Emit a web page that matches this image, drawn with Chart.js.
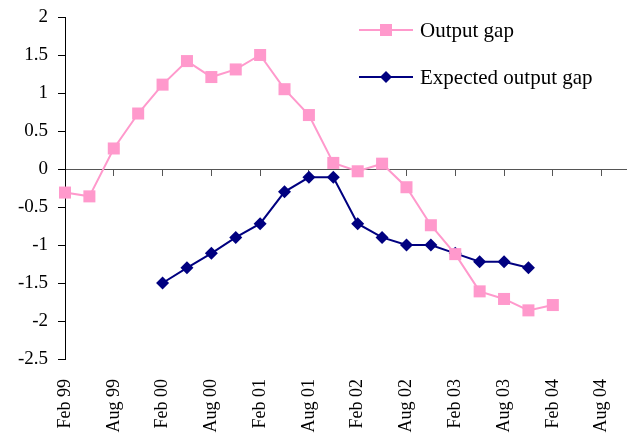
<!DOCTYPE html>
<html>
<head>
<meta charset="utf-8">
<script src="https://cdn.jsdelivr.net/npm/chart.js@4/dist/chart.umd.min.js"></script>
<style>
  html, body { margin: 0; padding: 0; background: #fff; }
  #wrap { width: 627px; height: 444px; }
</style>
</head>
<body>
<div id="wrap"><canvas id="gapChart"></canvas></div>
<script>
// quarterly observations, Feb 99 .. Nov 04
const quarters = [
  'Feb 99', 'May 99', 'Aug 99', 'Nov 99',
  'Feb 00', 'May 00', 'Aug 00', 'Nov 00',
  'Feb 01', 'May 01', 'Aug 01', 'Nov 01',
  'Feb 02', 'May 02', 'Aug 02', 'Nov 02',
  'Feb 03', 'May 03', 'Aug 03', 'Nov 03',
  'Feb 04', 'May 04', 'Aug 04', 'Nov 04'
];

const outputGap = [
  -0.31, -0.36, 0.27, 0.73, 1.11, 1.42, 1.21, 1.31, 1.50, 1.05, 0.71, 0.08,
  -0.03, 0.07, -0.24, -0.74, -1.12, -1.61, -1.71, -1.86, -1.79, null, null, null
];

const expectedGap = [
  null, null, null, null, -1.50, -1.30, -1.11, -0.90, -0.72, -0.30, -0.11, -0.11,
  -0.72, -0.90, -1.00, -1.00, -1.11, -1.22, -1.22, -1.30, null, null, null, null
];

const seriesNames = ['Output gap', 'Expected output gap'];

const PINK = '#ff99cc';
const NAVY = '#000080';
const FONT = "'Liberation Serif', 'Times New Roman', serif";

// keep only the Feb / Aug labels, like the original
function halfYearOnly(value, index) {
  return index % 2 === 0 ? quarters[index] : null;
}

// no extra side padding from the category axes
function noSidePadding(scale) {
  scale.paddingLeft = 0;
  scale.paddingRight = 0;
}

// legend drawn inside the plot, top right
const insideLegend = {
  id: 'insideLegend',
  afterDraw(chart) {
    const ctx = chart.ctx;
    const items = [
      { text: seriesNames[0], color: PINK, shape: 'square' },
      { text: seriesNames[1], color: NAVY, shape: 'diamond' }
    ];
    const x0 = 359, x1 = 413;
    ctx.save();
    items.forEach(function(item, i) {
      const y = 30 + i * 47;
      ctx.strokeStyle = item.color;
      ctx.lineWidth = 2;
      ctx.beginPath();
      ctx.moveTo(x0, y);
      ctx.lineTo(x1, y);
      ctx.stroke();
      ctx.fillStyle = item.color;
      const cx = (x0 + x1) / 2;
      ctx.beginPath();
      if (item.shape === 'square') {
        ctx.rect(cx - 6, y - 6, 12, 12);
      } else {
        ctx.moveTo(cx, y - 6);
        ctx.lineTo(cx + 6, y);
        ctx.lineTo(cx, y + 6);
        ctx.lineTo(cx - 6, y);
        ctx.closePath();
      }
      ctx.fill();
      ctx.fillStyle = '#000';
      ctx.font = '21px ' + FONT;
      ctx.textBaseline = 'middle';
      ctx.textAlign = 'left';
      ctx.fillText(item.text, 420, y + 1);
    });
    ctx.restore();
  }
};

new Chart(document.getElementById('gapChart'), {
  type: 'line',
  data: {
    labels: quarters,
    datasets: [{
      label: seriesNames[0],
      data: outputGap,
      borderColor: PINK,
      backgroundColor: PINK,
      borderWidth: 2,
      pointStyle: 'rect',
      pointRadius: 8.5,
      pointHoverRadius: 8.5,
      pointBorderWidth: 0,
      tension: 0,
      clip: false
    }, {
      label: seriesNames[1],
      data: expectedGap,
      borderColor: NAVY,
      backgroundColor: NAVY,
      borderWidth: 2,
      pointStyle: 'rectRot',
      pointRadius: 6.5,
      pointHoverRadius: 6.5,
      pointBorderWidth: 0,
      tension: 0,
      clip: false
    }]
  },
  options: {
    responsive: true,
    maintainAspectRatio: false,
    animation: false,
    layout: { autoPadding: false, padding: { top: 17, left: 18, right: 1, bottom: 0 } },
    plugins: {
      legend: { display: false },
      tooltip: { enabled: false }
    },
    scales: {
      x: {
        type: 'category',
        offset: false,
        // invisible tick marks just push the labels down
        grid: {
          display: true,
          drawOnChartArea: false,
          drawTicks: true,
          tickLength: 20,
          color: 'rgba(0,0,0,0)'
        },
        border: { display: false },
        ticks: {
          autoSkip: false,
          minRotation: 90,
          maxRotation: 90,
          padding: 0,
          color: '#000',
          font: { family: FONT, size: 18 },
          callback: halfYearOnly
        },
        afterFit: function(scale) {
          scale.height = 85;
          noSidePadding(scale);
        }
      },
      // zero line with its tick marks
      x2: {
        type: 'category',
        position: { y: 0 },
        offset: false,
        border: { display: true, color: '#555', width: 1 },
        grid: {
          drawOnChartArea: false,
          drawTicks: true,
          tickLength: 6,
          color: function(c) { return c.index % 2 === 0 ? '#555' : 'rgba(0,0,0,0)'; }
        },
        ticks: { display: false, autoSkip: false },
        afterFit: noSidePadding
      },
      y: {
        min: -2.5,
        max: 2,
        border: { display: true, color: '#000', width: 1 },
        grid: { drawOnChartArea: false, drawTicks: true, tickLength: 7, color: '#000' },
        ticks: {
          stepSize: 0.5,
          padding: 10,
          color: '#000',
          font: { family: FONT, size: 19 },
          callback: function(value) { return String(Math.round(value * 10) / 10); }
        },
        afterFit: function(scale) {
          scale.width = 47;
          scale.paddingTop = 0;
          scale.paddingBottom = 0;
        }
      }
    }
  },
  plugins: [insideLegend]
});
</script>
</body>
</html>
